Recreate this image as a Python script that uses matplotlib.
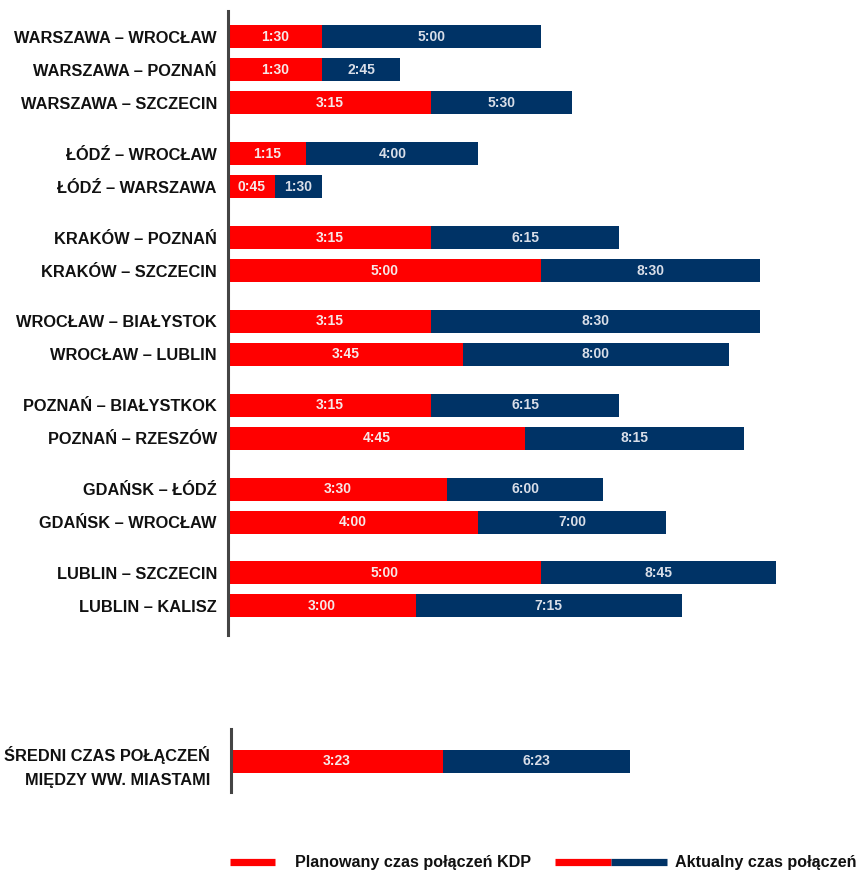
import matplotlib
matplotlib.use("Agg")
import matplotlib.pyplot as plt
from matplotlib.lines import Line2D

plt.rcParams["font.family"] = ["Liberation Sans", "DejaVu Sans"]

# Connections, grouped by departure city
groups = [
    ["WARSZAWA – WROCŁAW", "WARSZAWA – POZNAŃ", "WARSZAWA – SZCZECIN"],
    ["ŁÓDŹ – WROCŁAW", "ŁÓDŹ – WARSZAWA"],
    ["KRAKÓW – POZNAŃ", "KRAKÓW – SZCZECIN"],
    ["WROCŁAW – BIAŁYSTOK", "WROCŁAW – LUBLIN"],
    ["POZNAŃ – BIAŁYSTKOK", "POZNAŃ – RZESZÓW"],
    ["GDAŃSK – ŁÓDŹ", "GDAŃSK – WROCŁAW"],
    ["LUBLIN – SZCZECIN", "LUBLIN – KALISZ"],
]
planned = ["1:30", "1:30", "3:15", "1:15", "0:45", "3:15", "5:00",
           "3:15", "3:45", "3:15", "4:45", "3:30", "4:00", "5:00", "3:00"]
actual = ["5:00", "2:45", "5:30", "4:00", "1:30", "6:15", "8:30",
          "8:30", "8:00", "6:15", "8:15", "6:00", "7:00", "8:45", "7:15"]

avg_label = "ŚREDNI CZAS POŁĄCZEŃ\nMIĘDZY WW. MIASTAMI"
avg_planned = "3:23"
avg_actual = "6:23"

legend_planned = "Planowany czas połączeń KDP"
legend_actual = "Aktualny czas połączeń"

RED = "#ff0000"
BLUE = "#003366"
SPINE = "#444444"
TXT_ON_RED = "#f6e8e8"
TXT_ON_BLUE = "#d9dee8"
LABEL_SIZE = 11.8


def minutes(s):
    h, m = s.split(":")
    return int(h) * 60 + int(m)


W, H = 858, 875
fig = plt.figure(figsize=(W / 100, H / 100), dpi=100)

MIN_PER_PX = 1 / 1.043  # horizontal scale shared by both panels


def add_px_axes(x0, y_top, y_bot, x1=W):
    ax = fig.add_axes([x0 / W, (H - y_bot) / H, (x1 - x0) / W, (y_bot - y_top) / H])
    ax.set_xlim(0, (x1 - x0) * MIN_PER_PX)
    ax.set_ylim(y_bot, y_top)
    for s in ("top", "right", "bottom"):
        ax.spines[s].set_visible(False)
    ax.spines["left"].set_color(SPINE)
    ax.spines["left"].set_linewidth(2.2)
    ax.set_xticks([])
    ax.tick_params(axis="y", length=0, pad=8)
    ax.patch.set_alpha(0)
    return ax


def draw_rows(ax, ys, labels, plan, act, height=23):
    p = [minutes(v) for v in plan]
    a = [minutes(v) for v in act]
    ax.barh(ys, a, height=height, color=BLUE, linewidth=0)
    ax.barh(ys, p, height=height, color=RED, linewidth=0)
    for y, pv, av, ps, as_ in zip(ys, p, a, plan, act):
        ax.text(pv / 2, y, ps, ha="center", va="center", color=TXT_ON_RED,
                fontsize=10, fontweight="bold")
        ax.text((pv + av) / 2, y, as_, ha="center", va="center", color=TXT_ON_BLUE,
                fontsize=10, fontweight="bold")
    ax.set_yticks(ys)
    ax.set_yticklabels(labels, fontsize=LABEL_SIZE, fontweight="bold", color="#111111")


# main panel: rows 33 px apart, extra spacing between groups
ax = add_px_axes(228, 11, 635)
ys, labels = [], []
y = 37.0
for gi, g in enumerate(groups):
    if gi > 0:
        y += 50.8 - 33
    for name in g:
        ys.append(y)
        labels.append(name)
        y += 33
draw_rows(ax, ys, labels, planned, actual)

# average panel
ax2 = add_px_axes(231, 729, 792)
draw_rows(ax2, [761], [avg_label], [avg_planned], [avg_actual])
for t in ax2.get_yticklabels():
    t.set_linespacing(1.75)
    t.set_multialignment("right")
ax2.tick_params(axis="y", pad=15)

# legend
LEG_Y = (H - 862) / H


def seg(x0, x1, color):
    fig.add_artist(Line2D([x0 / W, x1 / W], [LEG_Y] * 2, color=color,
                          linewidth=5.2, solid_capstyle="butt"))


seg(230, 275, RED)
fig.text(295 / W, LEG_Y, legend_planned, ha="left", va="center",
         fontsize=11.6, fontweight="bold", color="#111111")
seg(555, 611, RED)
seg(611, 667, BLUE)
fig.text(675 / W, LEG_Y, legend_actual, ha="left", va="center",
         fontsize=11.6, fontweight="bold", color="#111111")

fig.savefig("out.png", dpi=100, facecolor="white")
